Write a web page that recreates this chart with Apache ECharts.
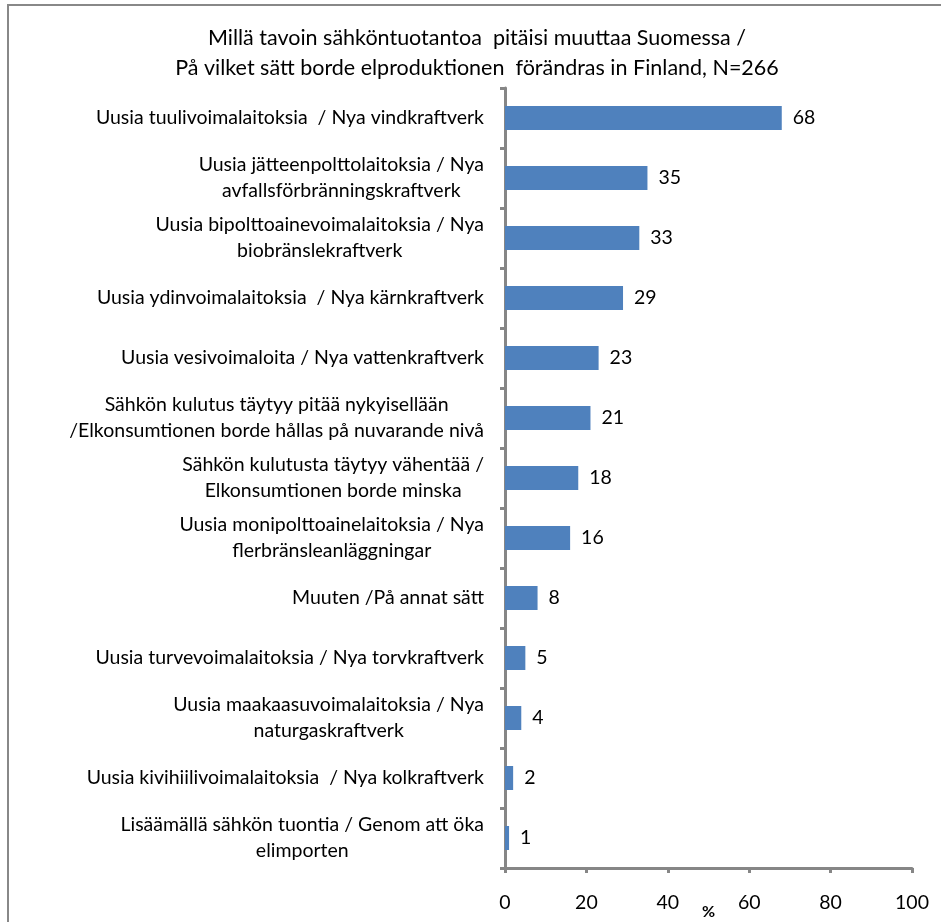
<!DOCTYPE html>
<html>
<head>
<meta charset="utf-8">
<script src="https://cdn.jsdelivr.net/npm/echarts@6/dist/echarts.min.js"></script>
<style>
html,body{margin:0;padding:0;background:#fff;overflow:hidden;}
#c{width:941px;height:922px;}
</style>
</head>
<body>
<div id="c"></div>
<script>
const titleLines = [
  'Millä tavoin sähköntuotantoa  pitäisi muuttaa Suomessa /',
  'På vilket sätt borde elproduktionen  förändras in Finland, N=266'
];
const categories = [
  'Uusia tuulivoimalaitoksia  / Nya vindkraftverk',
  'Uusia jätteenpolttolaitoksia / Nya\navfallsförbränningskraftverk',
  'Uusia bipolttoainevoimalaitoksia / Nya\nbiobränslekraftverk',
  'Uusia ydinvoimalaitoksia  / Nya kärnkraftverk',
  'Uusia vesivoimaloita / Nya vattenkraftverk',
  'Sähkön kulutus täytyy pitää nykyisellään\n/Elkonsumtionen borde hållas på nuvarande nivå',
  'Sähkön kulutusta täytyy vähentää /\nElkonsumtionen borde minska',
  'Uusia monipolttoainelaitoksia / Nya\nflerbränsleanläggningar',
  'Muuten /På annat sätt',
  'Uusia turvevoimalaitoksia / Nya torvkraftverk',
  'Uusia maakaasuvoimalaitoksia / Nya\nnaturgaskraftverk',
  'Uusia kivihiilivoimalaitoksia  / Nya kolkraftverk',
  'Lisäämällä sähkön tuontia / Genom att öka\nelimporten'
];
const values = [68, 35, 33, 29, 23, 21, 18, 16, 8, 5, 4, 2, 1];
const xTicks = [0, 20, 40, 60, 80, 100];
const axisName = '%';

const FONT = 'Lato';
const FS = 19.5;
const chart = echarts.init(document.getElementById('c'), null, {renderer: 'canvas'});
chart.setOption({
  animation: false,
  backgroundColor: '#fff',
  title: {
    text: titleLines.join('\n'),
    left: 472, top: 18, textAlign: 'center',
    textStyle: {fontFamily: FONT, fontSize: 21.5, fontWeight: 'normal', color: '#000', lineHeight: 30}
  },
  grid: {left: 505, right: 29, top: 88, bottom: 54, containLabel: false, outerBoundsMode: 'none'},
  xAxis: {
    type: 'value', min: xTicks[0], max: xTicks[xTicks.length - 1], interval: 20,
    name: axisName, nameLocation: 'middle', nameGap: 36, nameMoveOverlap: false,
    nameTextStyle: {fontFamily: FONT, fontSize: 16, fontWeight: 'bold', color: '#000'},
    axisLine: {show: true, lineStyle: {color: '#868686', width: 3}},
    axisTick: {show: true, length: 5, lineStyle: {color: '#868686', width: 3}},
    axisLabel: {fontFamily: FONT, fontSize: FS, color: '#000', margin: 25},
    splitLine: {show: false}
  },
  yAxis: {
    type: 'category', data: categories, inverse: true,
    axisLine: {show: true, lineStyle: {color: '#868686', width: 3}},
    axisTick: {show: true, length: 5, lineStyle: {color: '#868686', width: 3}},
    axisLabel: {
      margin: 21, align: 'right',
      formatter: function (v) { return v.split('\n').map(function (s) { return '{c|' + s + '}'; }).join('\n'); },
      rich: {c: {align: 'center', fontFamily: FONT, fontSize: FS, color: '#000', lineHeight: 26}}
    }
  },
  series: [{
    type: 'bar', data: values, barCategoryGap: '60%',
    itemStyle: {color: '#4F81BD'},
    label: {show: true, position: 'right', distance: 11, fontFamily: FONT, fontSize: FS, color: '#000'}
  }],
  graphic: [{
    type: 'rect', shape: {x: 8, y: 5, width: 960, height: 960},
    style: {fill: 'none', stroke: '#888', lineWidth: 2}, silent: true
  }]
});
</script>
</body>
</html>
